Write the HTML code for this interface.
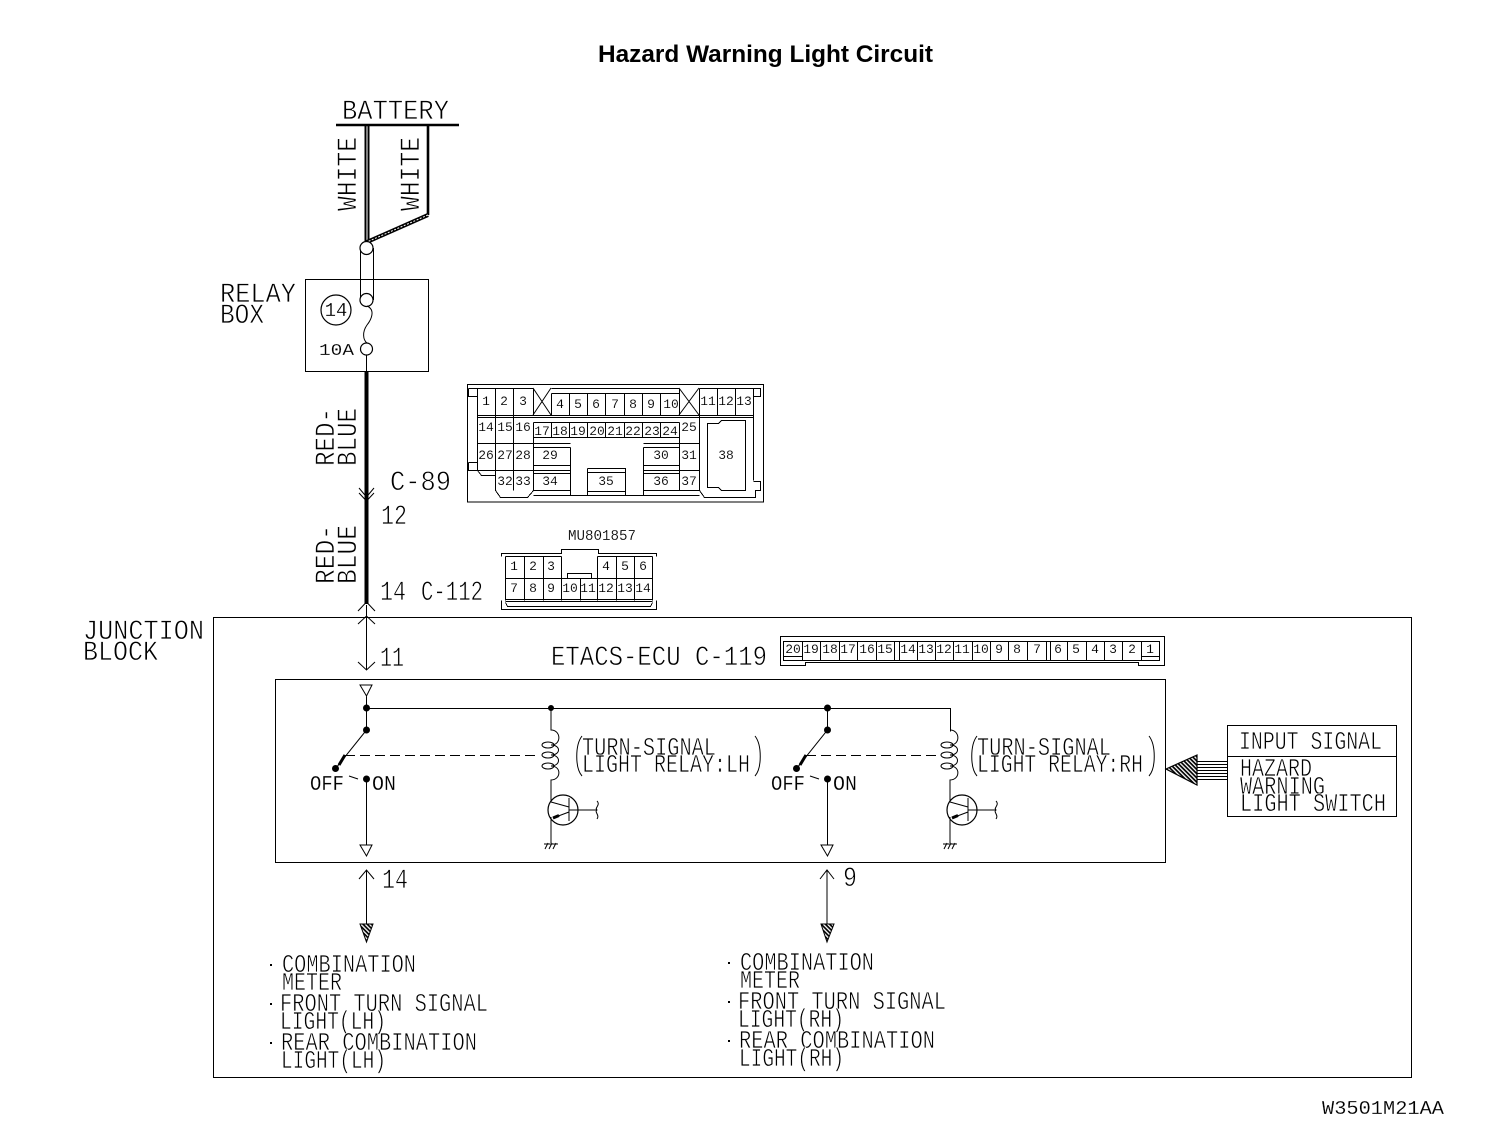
<!DOCTYPE html>
<html><head><meta charset="utf-8"><style>
html,body{margin:0;padding:0;background:#fff;width:1504px;height:1132px;overflow:hidden}
svg{display:block}
text{font-family:"Liberation Mono",monospace;fill:#000;stroke:#fff;stroke-width:.65px}
.t{font-family:"Liberation Sans",sans-serif;font-weight:bold;font-size:24px;stroke:none}
.b{font-size:28px}.m{font-size:26px}.s{font-size:15px;stroke-width:.15px}
.n{font-size:13px;text-anchor:middle;stroke-width:.1px}
.l{fill:none;stroke:#000;stroke-width:1;shape-rendering:crispEdges}
.f{fill:#000;stroke:#000;stroke-width:1}
</style></head><body>
<svg width="1504" height="1132" viewBox="0 0 1504 1132" xmlns="http://www.w3.org/2000/svg">
<defs><pattern id="h" width="3" height="3" patternUnits="userSpaceOnUse" patternTransform="rotate(45)"><rect width="3" height="3" fill="#fff"/><rect width="3" height="1.7" fill="#000"/></pattern></defs>
<text class="t" x="598" y="62" textLength="335" lengthAdjust="spacingAndGlyphs">Hazard Warning Light Circuit</text>

<!-- top wiring -->
<path d="M336 125H459" stroke="#000" stroke-width="2.4" fill="none"/>
<path d="M365.500 125V243M368.500 125V243" stroke="#000" stroke-width="2" fill="none"/>
<path d="M428 125V215" stroke="#000" stroke-width="2.6" fill="none"/>
<path d="M428 215L367 242" stroke="#000" stroke-width="4" fill="none"/>
<path d="M428 215L367 242" stroke="#fff" stroke-width="1" stroke-dasharray="2 1.500" fill="none"/>
<text class="b" x="342" y="119" textLength="107" lengthAdjust="spacingAndGlyphs">BATTERY</text>
<text class="b" transform="translate(356,211) rotate(-90)" textLength="74" lengthAdjust="spacingAndGlyphs">WHITE</text>
<text class="b" transform="translate(419,211) rotate(-90)" textLength="74" lengthAdjust="spacingAndGlyphs">WHITE</text>
<rect class="l" x="305.500" y="279.500" width="123" height="92"/>
<path class="l" d="M360.500 248V300M373.500 248V300"/>
<circle cx="366.500" cy="248" r="6.500" fill="#fff" stroke="#000" stroke-width="1.200"/>
<circle cx="366.500" cy="300" r="6.500" fill="#fff" stroke="#000" stroke-width="1.200"/>
<circle cx="366.500" cy="349" r="6" fill="#fff" stroke="#000" stroke-width="1.200"/>
<path d="M367 306C376 310 371 320 367 325C362 332 363 340 367 343M366.500 355V371" fill="none" stroke="#000"/>
<circle cx="336" cy="310" r="15" fill="none" stroke="#000" stroke-width="1.200"/>
<text x="336" y="316" font-size="19" text-anchor="middle" style="stroke-width:.2px">14</text>
<text class="s" x="319" y="355" textLength="35" lengthAdjust="spacingAndGlyphs" style="font-size:17px">10A</text>
<text class="b" x="220" y="302" textLength="76" lengthAdjust="spacingAndGlyphs">RELAY</text>
<text class="b" x="220" y="323" textLength="44" lengthAdjust="spacingAndGlyphs">BOX</text>

<path d="M366.500 371V604" stroke="#000" stroke-width="4" fill="none"/>
<path d="M359 488L366.500 497L374 488M359 493L366.500 501L374 493" fill="none" stroke="#000"/>
<text class="b" transform="translate(334,466) rotate(-90)" textLength="58" lengthAdjust="spacingAndGlyphs">RED-</text>
<text class="b" transform="translate(356,466) rotate(-90)" textLength="58" lengthAdjust="spacingAndGlyphs">BLUE</text>
<text class="b" transform="translate(334,584) rotate(-90)" textLength="59" lengthAdjust="spacingAndGlyphs">RED-</text>
<text class="b" transform="translate(356,584) rotate(-90)" textLength="59" lengthAdjust="spacingAndGlyphs">BLUE</text>
<text class="b" x="390" y="490" textLength="61" lengthAdjust="spacingAndGlyphs">C-89</text>
<text class="b" x="381" y="524" textLength="26" lengthAdjust="spacingAndGlyphs">12</text>
<text class="b" x="380" y="600" textLength="26" lengthAdjust="spacingAndGlyphs">14</text>
<text class="b" x="421" y="600" textLength="62" lengthAdjust="spacingAndGlyphs">C-112</text>

<!-- Connector C-89 -->
<rect class="l" x="467.500" y="384.500" width="296" height="117.500"/>
<path class="l" d="M477.500 388.500H533.500M551.500 388.500H679.500M699.500 388.500H753.500M551.500 393.500H679.500M477.500 415.500H753.500M477.500 417.500H753.500M533.500 422.500H679.500M533.500 437.500H679.500M477.500 443.500H570.500M643.500 443.500H699.500"/>
<path class="l" d="M477.500 388.500V470.500M495.500 388.500V490.500M513.500 388.500V490.500M533.500 388.500V415.500M533.500 422.500V490.500M551.500 393.500V415.500M551.500 422.500V437.500M569.500 393.500V415.500M569.500 422.500V437.500M587.500 393.500V415.500M587.500 422.500V437.500M605.500 393.500V415.500M605.500 422.500V437.500M624.500 393.500V415.500M624.500 422.500V437.500M642.500 393.500V415.500M642.500 422.500V437.500M660.500 393.500V415.500M660.500 422.500V437.500M679.500 388.500V415.500M679.500 422.500V490.500M699.500 388.500V490.500M717.500 388.500V415.500M735.500 388.500V415.500M753.500 388.500V480.500"/>
<path class="l" d="M533.500 447.500H570.500M643.500 447.500H679.500M533.500 465.500H570.500M643.500 465.500H679.500M477.500 470.500H570.500M643.500 470.500H699.500M533.500 473.500H570.500M643.500 473.500H679.500M533.500 490.500H570.500M643.500 490.500H699.500M570.500 447.500V495.500M643.500 447.500V495.500"/>
<path class="l" d="M587.500 468.500H625.500V495.500M587.500 468.500V495.500M587.500 472.500H625.500M587.500 491.500H625.500M533.500 495.500H699.500"/>
<path class="l" d="M477.500 470.500L481.500 475.500H495.500M495.500 490.500L500.500 497.500H527.500L533.500 490.500M699.500 490.500L704.500 497.500H755.500V490.500H760.500V481.500H753.500M468.500 388.500H477.500M468.500 388.500V396.500H477.500M753.500 388.500H760.500V396.500H753.500M468.500 462.500H477.500M468.500 462.500V470.500H477.500"/>
<path class="l" d="M707.500 423.500H718.500L721.500 420.500H745.500V490.500H721.500L718.500 487.500H707.500Z"/>
<path d="M533 388L551 415M551 388L533 415M679 388L699 415M699 388L679 415" fill="none" stroke="#000"/>
<g>
<text class="n" x="486" y="405">1</text><text class="n" x="504" y="405">2</text><text class="n" x="523" y="405">3</text>
<text class="n" x="560" y="408">4</text><text class="n" x="578" y="408">5</text><text class="n" x="596" y="408">6</text><text class="n" x="615" y="408">7</text><text class="n" x="633" y="408">8</text><text class="n" x="651" y="408">9</text><text class="n" x="671" y="408">10</text>
<text class="n" x="708" y="405">11</text><text class="n" x="726" y="405">12</text><text class="n" x="744" y="405">13</text>
<text class="n" x="486" y="431">14</text><text class="n" x="505" y="431">15</text><text class="n" x="523" y="431">16</text>
<text class="n" x="542" y="435">17</text><text class="n" x="560" y="435">18</text><text class="n" x="578" y="435">19</text><text class="n" x="597" y="435">20</text><text class="n" x="615" y="435">21</text><text class="n" x="633" y="435">22</text><text class="n" x="652" y="435">23</text><text class="n" x="670" y="435">24</text><text class="n" x="689" y="431">25</text>
<text class="n" x="486" y="459">26</text><text class="n" x="505" y="459">27</text><text class="n" x="523" y="459">28</text><text class="n" x="550" y="459">29</text><text class="n" x="661" y="459">30</text><text class="n" x="689" y="459">31</text><text class="n" x="726" y="459">38</text>
<text class="n" x="505" y="485">32</text><text class="n" x="523" y="485">33</text><text class="n" x="550" y="485">34</text><text class="n" x="606" y="485">35</text><text class="n" x="661" y="485">36</text><text class="n" x="689" y="485">37</text>
</g>

<!-- Connector C-112 -->
<text class="s" x="568" y="540" textLength="68" lengthAdjust="spacingAndGlyphs">MU801857</text>
<path class="l" d="M501.500 556.500V553.500H561.500V549.500H598.500V553.500H656.500V556.500M501.500 600.500V609.500H656.500V600.500M505.500 556.500H561.500M597.500 556.500H652.500M505.500 578.500H652.500M505.500 599.500H652.500M505.500 601.500H652.500M505.500 556.500V600.500M524.500 556.500V600.500M543.500 556.500V600.500M561.500 556.500V600.500M580.500 578.500V600.500M597.500 556.500V600.500M616.500 556.500V600.500M634.500 556.500V600.500M652.500 556.500V600.500M505.500 602.500L507.500 606.500H650.500L652.500 602.500M567.500 578.500V573.500H591.500V578.500"/>
<g>
<text class="n" x="514" y="570">1</text><text class="n" x="533" y="570">2</text><text class="n" x="551" y="570">3</text><text class="n" x="606" y="570">4</text><text class="n" x="625" y="570">5</text><text class="n" x="643" y="570">6</text>
<text class="n" x="514" y="592">7</text><text class="n" x="533" y="592">8</text><text class="n" x="551" y="592">9</text><text class="n" x="570" y="592">10</text><text class="n" x="588" y="592">11</text><text class="n" x="606" y="592">12</text><text class="n" x="625" y="592">13</text><text class="n" x="643" y="592">14</text>
</g>

<!-- Junction block -->
<rect class="l" x="213.500" y="617.500" width="1198" height="460"/>
<text class="b" x="83" y="639" textLength="121" lengthAdjust="spacingAndGlyphs">JUNCTION</text>
<text class="b" x="83" y="660" textLength="75" lengthAdjust="spacingAndGlyphs">BLOCK</text>
<path d="M366.500 605V670M358 611L366.500 602L375 611M358 624L366.500 616L375 624M358 662L366.500 670L375 662" fill="none" stroke="#000"/>
<text class="b" x="380" y="666" textLength="24" lengthAdjust="spacingAndGlyphs">11</text>
<text class="b" x="551" y="665" textLength="216" lengthAdjust="spacingAndGlyphs">ETACS-ECU C-119</text>

<!-- Connector C-119 -->
<path class="l" d="M780.500 636.500H1164.500V665.500H1138.500V662.500H805.500V665.500H780.500ZM783.500 641.500H1159.500V660.500H783.500ZM783.500 656.500H802.500M1141.500 656.500H1159.500M802.500 641.500V660.500M820.500 641.500V660.500M839.500 641.500V660.500M857.500 641.500V660.500M876.500 641.500V660.500M894.500 641.500V660.500M899.500 641.500V660.500M917.500 641.500V660.500M935.500 641.500V660.500M953.500 641.500V660.500M972.500 641.500V660.500M990.500 641.500V660.500M1008.500 641.500V660.500M1027.500 641.500V660.500M1046.500 641.500V660.500M1050.500 641.500V660.500M1067.500 641.500V660.500M1086.500 641.500V660.500M1104.500 641.500V660.500M1122.500 641.500V660.500M1141.500 641.500V660.500"/>
<g>
<text class="n" x="793" y="653">20</text><text class="n" x="811" y="653">19</text><text class="n" x="830" y="653">18</text><text class="n" x="848" y="653">17</text><text class="n" x="867" y="653">16</text><text class="n" x="885" y="653">15</text><text class="n" x="908" y="653">14</text><text class="n" x="926" y="653">13</text><text class="n" x="944" y="653">12</text><text class="n" x="962" y="653">11</text><text class="n" x="981" y="653">10</text><text class="n" x="999" y="653">9</text><text class="n" x="1017" y="653">8</text><text class="n" x="1037" y="653">7</text><text class="n" x="1058" y="653">6</text><text class="n" x="1076" y="653">5</text><text class="n" x="1095" y="653">4</text><text class="n" x="1113" y="653">3</text><text class="n" x="1132" y="653">2</text><text class="n" x="1150" y="653">1</text>
</g>

<!-- ETACS inner -->
<rect class="l" x="275.500" y="679.500" width="890" height="183"/>
<path class="l" d="M366.500 696.500V730.500M366.500 708.500H950.500V731.500"/>
<path d="M360 685H372L366.500 696Z" fill="#fff" stroke="#000"/>
<!-- left switch group -->
<circle class="f" cx="366.500" cy="708" r="3"/>
<circle class="f" cx="366.500" cy="730" r="3"/>
<path d="M366.500 730L336 768" fill="none" stroke="#000"/>
<path d="M345 755L339 765" stroke="#000" stroke-width="3"/>
<circle class="f" cx="335.500" cy="768.500" r="3"/>
<path d="M349 776L358 779" fill="none" stroke="#000"/>
<circle class="f" cx="366.500" cy="779" r="3"/>
<path class="l" d="M366.500 779.500V845.500"/>
<path d="M360 845H372L366.500 856Z" fill="#fff" stroke="#000"/>
<text class="s" x="310" y="790" textLength="34" lengthAdjust="spacingAndGlyphs" style="font-size:21px">OFF</text>
<text class="s" x="372" y="790" textLength="24" lengthAdjust="spacingAndGlyphs" style="font-size:21px">ON</text>
<path class="l" d="M345 755.500H540" stroke-dasharray="10 5"/>
<g>
<circle class="f" cx="551" cy="708" r="2.500"/>
<path d="M551 708V730C561 730 562 745 551 745C561 745 561 755 551 755C561 755 561 766 551 766C562 766 561 780 551 780V802M551 802L569 807M569 798V821M569 812L553 818M551 817V843M569 810H597M597 801C601 805 594 808 597 810C594 812 600 815 597 819M545 849L548 843M549 849L552 843M553 849L556 843M544 844H558" fill="none" stroke="#000"/>
<ellipse cx="548" cy="745" rx="6" ry="3" fill="none" stroke="#000"/>
<ellipse cx="548" cy="755" rx="6" ry="3" fill="none" stroke="#000"/>
<ellipse cx="548" cy="766" rx="6" ry="3" fill="none" stroke="#000"/>
<circle cx="563" cy="810" r="15" fill="none" stroke="#000" stroke-width="1.200"/>
<path d="M553 818L559 815.500" stroke="#000" stroke-width="3"/>
</g>
<g transform="translate(461,0)">
<circle class="f" cx="366.500" cy="708" r="3"/>
<circle class="f" cx="366.500" cy="730" r="3"/>
<path d="M366.500 708V730L336 768" fill="none" stroke="#000"/>
<path d="M345 755L339 765" stroke="#000" stroke-width="3"/>
<circle class="f" cx="335.500" cy="768.500" r="3"/>
<path d="M349 776L358 779" fill="none" stroke="#000"/>
<circle class="f" cx="366.500" cy="779" r="3"/>
<path class="l" d="M366.500 779.500V845.500"/>
<path d="M360 845H372L366.500 856Z" fill="#fff" stroke="#000"/>
<text class="s" x="310" y="790" textLength="34" lengthAdjust="spacingAndGlyphs" style="font-size:21px">OFF</text>
<text class="s" x="372" y="790" textLength="24" lengthAdjust="spacingAndGlyphs" style="font-size:21px">ON</text>
</g>
<path class="l" d="M806 755.500H939" stroke-dasharray="10 5"/>
<g transform="translate(399,0)">
<path d="M551 730C561 730 562 745 551 745C561 745 561 755 551 755C561 755 561 766 551 766C562 766 561 780 551 780V802M551 802L569 807M569 798V821M569 812L553 818M551 817V843M569 810H597M597 801C601 805 594 808 597 810C594 812 600 815 597 819M545 849L548 843M549 849L552 843M553 849L556 843M544 844H558" fill="none" stroke="#000"/>
<ellipse cx="548" cy="745" rx="6" ry="3" fill="none" stroke="#000"/>
<ellipse cx="548" cy="755" rx="6" ry="3" fill="none" stroke="#000"/>
<ellipse cx="548" cy="766" rx="6" ry="3" fill="none" stroke="#000"/>
<circle cx="563" cy="810" r="15" fill="none" stroke="#000" stroke-width="1.200"/>
<path d="M553 818L559 815.500" stroke="#000" stroke-width="3"/>
</g>
<text class="m" x="582" y="755" textLength="134" lengthAdjust="spacingAndGlyphs">TURN-SIGNAL</text>
<text class="m" x="582" y="772" textLength="168" lengthAdjust="spacingAndGlyphs">LIGHT RELAY:LH</text>
<text class="m" x="977" y="755" textLength="134" lengthAdjust="spacingAndGlyphs">TURN-SIGNAL</text>
<text class="m" x="977" y="772" textLength="166" lengthAdjust="spacingAndGlyphs">LIGHT RELAY:RH</text>
<path d="M582 736C575 745 575 768 582 776M755 736C762 745 762 768 755 776M977 736C970 745 970 768 977 776M1149 736C1156 745 1156 768 1149 776" fill="none" stroke="#000"/>

<!-- Input -->
<rect class="l" x="1227.500" y="725.500" width="169" height="91"/>
<path class="l" d="M1227 756.500H1396"/>
<text class="m" x="1239" y="749" textLength="143" lengthAdjust="spacingAndGlyphs">INPUT SIGNAL</text>
<text class="m" x="1240" y="776" textLength="72" lengthAdjust="spacingAndGlyphs">HAZARD</text>
<text class="m" x="1240" y="794" textLength="85" lengthAdjust="spacingAndGlyphs">WARNING</text>
<text class="m" x="1240" y="811" textLength="146" lengthAdjust="spacingAndGlyphs">LIGHT SWITCH</text>
<path d="M1166 769L1197 755V785Z" fill="url(#h)" stroke="#000" stroke-width="1.200"/>
<path class="l" d="M1197 761.500H1227M1197 764.500H1227M1197 767.500H1227M1197 770.500H1227M1197 773.500H1227M1197 776.500H1227M1197 779.500H1227"/>

<!-- Lower arrows -->
<path d="M366.500 870V924M359 879L366.500 870L374 879" fill="none" stroke="#000"/>
<path d="M360 924H373L366.500 942Z" fill="url(#h)" stroke="#000"/>
<path d="M827 870V924M820 879L827 870L834 879" fill="none" stroke="#000"/>
<path d="M821 924H834L827 942Z" fill="url(#h)" stroke="#000"/>
<text class="b" x="382" y="888" textLength="26" lengthAdjust="spacingAndGlyphs">14</text>
<text class="b" x="843" y="886" textLength="14" lengthAdjust="spacingAndGlyphs">9</text>

<!-- Lower labels -->
<g>
<rect x="270" y="964" width="2" height="2"/><rect x="270" y="1003" width="2" height="2"/><rect x="270" y="1042" width="2" height="2"/>
<text class="m" x="282" y="972" textLength="134" lengthAdjust="spacingAndGlyphs">COMBINATION</text>
<text class="m" x="282" y="990" textLength="60" lengthAdjust="spacingAndGlyphs">METER</text>
<text class="m" x="280" y="1011" textLength="208" lengthAdjust="spacingAndGlyphs">FRONT TURN SIGNAL</text>
<text class="m" x="280" y="1029" textLength="106" lengthAdjust="spacingAndGlyphs">LIGHT(LH)</text>
<text class="m" x="281" y="1050" textLength="196" lengthAdjust="spacingAndGlyphs">REAR COMBINATION</text>
<text class="m" x="281" y="1068" textLength="105" lengthAdjust="spacingAndGlyphs">LIGHT(LH)</text>
</g>
<g transform="translate(458,-2)">
<rect x="270" y="964" width="2" height="2"/><rect x="270" y="1003" width="2" height="2"/><rect x="270" y="1042" width="2" height="2"/>
<text class="m" x="282" y="972" textLength="134" lengthAdjust="spacingAndGlyphs">COMBINATION</text>
<text class="m" x="282" y="990" textLength="60" lengthAdjust="spacingAndGlyphs">METER</text>
<text class="m" x="280" y="1011" textLength="208" lengthAdjust="spacingAndGlyphs">FRONT TURN SIGNAL</text>
<text class="m" x="280" y="1029" textLength="106" lengthAdjust="spacingAndGlyphs">LIGHT(RH)</text>
<text class="m" x="281" y="1050" textLength="196" lengthAdjust="spacingAndGlyphs">REAR COMBINATION</text>
<text class="m" x="281" y="1068" textLength="105" lengthAdjust="spacingAndGlyphs">LIGHT(RH)</text>
</g>
<text class="s" x="1322" y="1114" textLength="122" lengthAdjust="spacingAndGlyphs" style="font-size:19px">W3501M21AA</text>
</svg>
</body></html>
